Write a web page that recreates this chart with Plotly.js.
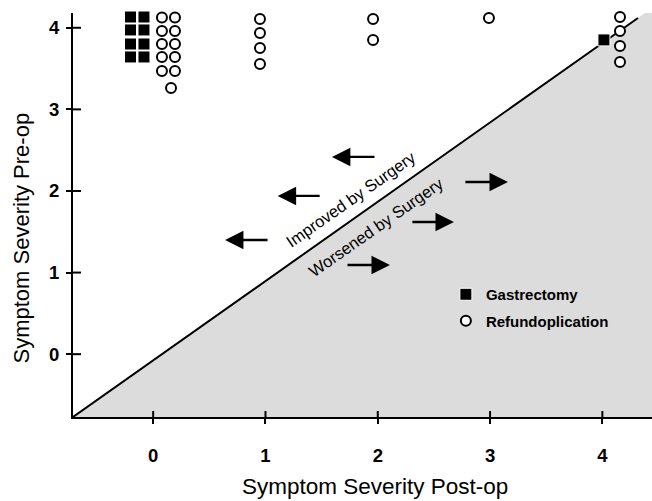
<!DOCTYPE html>
<html>
<head>
<meta charset="utf-8">
<script src="https://cdn.plot.ly/plotly-3.0.1.min.js"></script>
<style>html,body{margin:0;padding:0;background:#fff;}#chart{width:652px;height:501px;}</style>
</head>
<body>
<div id="chart"></div>
<script>
// Axis ticks
const tickVals = [0, 1, 2, 3, 4];
const tickText = ["0", "1", "2", "3", "4"];
const xRange = [-0.714, 4.442];
const yRange = [-0.770, 4.181];

// Gastrectomy (filled squares): post-op vs pre-op severity (stacked positions as drawn)
const gastPost = [-0.202, -0.202, -0.202, -0.202, -0.082, -0.082, -0.082, -0.082, 4.014];
const gastPre  = [4.132, 3.973, 3.801, 3.642, 4.132, 3.973, 3.801, 3.642, 3.851];

// Refundoplication (open circles)
const refPost = [0.078, 0.078, 0.078, 0.078, 0.078,
                 0.194, 0.194, 0.194, 0.194, 0.194, 0.159,
                 0.951, 0.951, 0.951, 0.951,
                 1.958, 1.958,
                 2.990,
                 4.157, 4.157, 4.157, 4.157];
const refPre  = [4.126, 3.961, 3.801, 3.642, 3.471,
                 4.126, 3.961, 3.801, 3.642, 3.471, 3.262,
                 4.108, 3.936, 3.752, 3.556,
                 4.108, 3.851,
                 4.120,
                 4.132, 3.961, 3.777, 3.581];

// Diagonal separating line and shaded "worsened" region
const diagX = [-0.714, 4.317];
const diagY = [-0.770, 4.120];
const shadeX = [-0.714, 4.380, 4.442, 4.442, -0.714];
const shadeY = [-0.770, 4.181, 4.181, -0.770, -0.770];

// Arrows: head and tail positions
const leftHeadX = [1.592, 1.109, 0.640];
const leftTailX = [1.984, 1.496, 1.032];
const leftY     = [2.417, 1.939, 1.399];
const rightHeadX = [3.159, 2.678, 2.108];
const rightTailX = [2.767, 2.295, 1.717];
const rightY     = [2.110, 1.620, 1.093];

// Region labels
const regionLabels = ["Improved by Surgery", "Worsened by Surgery"];
const regionX = [1.761, 1.984];
const regionY = [1.902, 1.559];

const FONT = "Liberation Sans, Arial, Helvetica, sans-serif";

const traces = [
  {x: shadeX, y: shadeY, type: "scatter", mode: "lines", fill: "toself",
   fillcolor: "#dcdcdc", line: {width: 0, color: "rgba(0,0,0,0)"}, showlegend: false, hoverinfo: "skip"},
  {x: diagX, y: diagY, type: "scatter", mode: "lines",
   line: {color: "#000", width: 2}, showlegend: false, hoverinfo: "skip"},
  {x: gastPost, y: gastPre, type: "scatter", mode: "markers", name: "Gastrectomy", legendgroup: "g",
   marker: {symbol: "square", size: 12, color: "#000", line: {color: "#fff", width: 1}}, cliponaxis: false},
  {x: refPost, y: refPre, type: "scatter", mode: "markers", name: "Refundoplication", legendgroup: "r",
   marker: {symbol: "circle", size: 10, color: "#fff", line: {color: "#000", width: 2}}, cliponaxis: false}
];

const annotations = [];
for (let i = 0; i < leftHeadX.length; i++) {
  annotations.push({x: leftHeadX[i], y: leftY[i], ax: leftTailX[i], ay: leftY[i],
    xref: "x", yref: "y", axref: "x", ayref: "y", text: "", showarrow: true,
    arrowhead: 2, arrowsize: 1.6, arrowwidth: 2.3, arrowcolor: "#000"});
}
for (let i = 0; i < rightHeadX.length; i++) {
  annotations.push({x: rightHeadX[i], y: rightY[i], ax: rightTailX[i], ay: rightY[i],
    xref: "x", yref: "y", axref: "x", ayref: "y", text: "", showarrow: true,
    arrowhead: 2, arrowsize: 1.6, arrowwidth: 2.3, arrowcolor: "#000"});
}
for (let i = 0; i < regionLabels.length; i++) {
  annotations.push({x: regionX[i], y: regionY[i], xref: "x", yref: "y", text: regionLabels[i],
    showarrow: false, textangle: -35, font: {family: FONT, size: 16.5, color: "#000"},
    xanchor: "center", yanchor: "middle"});
}
annotations.push({x: 0.5216, y: -0.171, xref: "paper", yref: "paper", text: "Symptom Severity Post-op",
  showarrow: false, font: {family: FONT, size: 22.5, color: "#000"}, xanchor: "center", yanchor: "middle"});
annotations.push({x: -0.0881, y: 0.4443, xref: "paper", yref: "paper", text: "Symptom Severity Pre-op",
  showarrow: false, textangle: -90, font: {family: FONT, size: 22, color: "#000"}, xanchor: "center", yanchor: "middle"});

// inner halves of the crossing tick marks
const shapes = [];
tickVals.forEach(v => {
  shapes.push({type: "line", xref: "x", yref: "y", ysizemode: "pixel", yanchor: yRange[0],
    x0: v, x1: v, y0: 0, y1: 6, line: {color: "#000", width: 2}});
  shapes.push({type: "line", xref: "x", yref: "y", xsizemode: "pixel", xanchor: xRange[0],
    y0: v, y1: v, x0: 0, x1: 8, line: {color: "#000", width: 2}});
});

const layout = {
  width: 652, height: 501,
  margin: {l: 73, r: 0, t: 13, b: 84, pad: 0},
  paper_bgcolor: "#fff", plot_bgcolor: "#fff",
  font: {family: FONT, color: "#000"},
  xaxis: {range: xRange, tickvals: tickVals, ticktext: tickText, showgrid: false, zeroline: false,
    showline: true, linecolor: "#000", linewidth: 2, ticks: "outside", ticklen: 5, tickwidth: 2,
    tickcolor: "#000", ticklabelstandoff: 16, tickfont: {family: FONT, size: 18.5, color: "#000", weight: "bold"},
    fixedrange: true},
  yaxis: {range: yRange, tickvals: tickVals, ticktext: tickText, showgrid: false, zeroline: false,
    showline: true, linecolor: "#000", linewidth: 2, ticks: "outside", ticklen: 5, tickwidth: 2,
    tickcolor: "#000", ticklabelstandoff: 3, tickfont: {family: FONT, size: 18.5, color: "#000", weight: "bold"},
    fixedrange: true},
  showlegend: true,
  legend: {x: 0.644, y: 0.344, xanchor: "left", yanchor: "top", bgcolor: "rgba(0,0,0,0)",
    traceorder: "grouped", tracegroupgap: 4,
    font: {family: FONT, size: 15, color: "#000", weight: "bold"}},
  annotations: annotations,
  shapes: shapes
};

Plotly.newPlot("chart", traces, layout, {displayModeBar: false, staticPlot: true});
</script>
</body>
</html>
